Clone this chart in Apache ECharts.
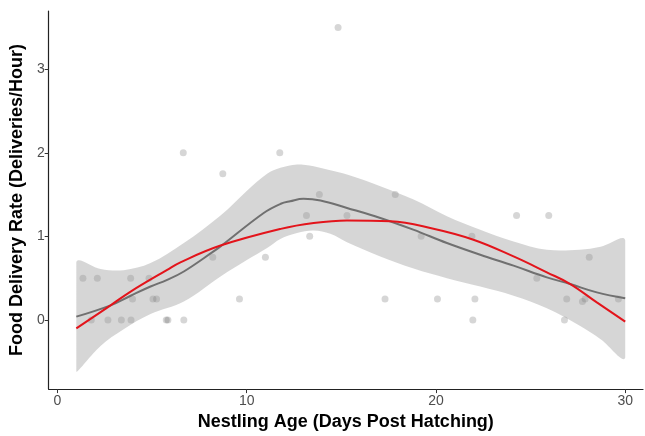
<!DOCTYPE html>
<html>
<head>
<meta charset="utf-8">
<script src="https://cdn.jsdelivr.net/npm/echarts@6/dist/echarts.min.js"></script>
<style>html,body{margin:0;padding:0;background:#fff}#c{width:645px;height:436px}</style>
</head>
<body>
<div id="c"></div>
<script>
// Observed data points [age, rate]
const points = [
  [1.35,0.5],[2.11,0.5],[3.87,0.5],[4.84,0.5],
  [3.97,0.25],[5.05,0.25],[5.24,0.25],
  [1.79,0],[2.67,0],[3.38,0],[3.89,0],[5.75,0],[5.84,0],[6.68,0],
  [6.65,2],[8.74,1.75],[8.21,0.75],[9.62,0.25],[10.99,0.75],[11.75,2],
  [13.16,1.25],[13.33,1],[13.84,1.5],[14.83,3.5],[15.3,1.25],
  [17.31,0.25],[17.85,1.5],[19.22,1],[20.08,0.25],
  [21.9,1],[21.95,0],[22.06,0.25],[24.26,1.25],[25.33,0.5],[25.96,1.25],
  [26.79,0],[26.91,0.25],[27.74,0.22],[27.88,0.25],[28.1,0.75],[29.64,0.25]
];
// Confidence band of the loess smoother
const bandX     = [1, 2.28, 3.5, 4.92, 6.68, 8.62, 10.03, 11.08, 11.78, 12.66, 13.54, 14.42, 15.3, 17.06, 18.82, 20.58, 22.34, 24.1, 25.86, 27.6, 28.7, 30];
const bandUpper = [0.69, 0.61, 0.595, 0.68, 0.92, 1.25, 1.55, 1.75, 1.82, 1.86, 1.84, 1.79, 1.74, 1.60, 1.44, 1.24, 1.08, 0.94, 0.84, 0.84, 0.875, 0.955];
const bandLower = [-0.62, -0.31, -0.11, 0.07, 0.22, 0.52, 0.72, 0.86, 0.97, 1.04, 1.07, 1.03, 0.93, 0.76, 0.615, 0.50, 0.40, 0.29, 0.14, -0.07, -0.23, -0.45];
// Loess curve (grey)
const loessCurve = [[1,0.04],[2.81,0.175],[3.87,0.29],[4.92,0.40],[5.8,0.48],[6.68,0.58],[8.25,0.82],[8.62,0.88],[10.9,1.28],[11.8,1.39],[12.3,1.42],[13.0,1.45],[13.9,1.43],[15.3,1.34],[17.06,1.22],[18.8,1.08],[20.58,0.92],[22.34,0.78],[24.1,0.65],[25.86,0.51],[27.09,0.43],[28.5,0.33],[30,0.26]];
// Polynomial fit curve (red)
const polyCurve = [[1,-0.10],[2.81,0.175],[3.87,0.34],[5.8,0.60],[6.5,0.69],[8.62,0.89],[11.8,1.09],[13.54,1.16],[15.3,1.19],[17.6,1.18],[19.7,1.10],[21.98,0.96],[24.1,0.76],[25.86,0.57],[27.1,0.43],[28.5,0.21],[30,-0.02]];
// Tick labels
const xTicks = [0, 10, 20, 30];
const yTicks = [0, 1, 2, 3];

const font = "'Liberation Sans', Arial, sans-serif";
const chart = echarts.init(document.getElementById('c'));
chart.setOption({
  animation: false,
  backgroundColor: '#ffffff',
  grid: { left: 48, right: 2, top: 11, bottom: 46, containLabel: false },
  xAxis: {
    type: 'value', min: -0.46, max: 30.94,
    name: 'Nestling Age (Days Post Hatching)', nameLocation: 'middle', nameGap: 23,
    nameTextStyle: { fontFamily: font, fontWeight: 'bold', fontSize: 18, color: '#000' },
    axisLine: { show: true, onZero: false, lineStyle: { color: '#222', width: 1.2 } },
    axisTick: { show: true, length: 4, lineStyle: { color: '#333' }, customValues: xTicks },
    axisLabel: { fontFamily: font, fontSize: 14, color: '#4d4d4d', margin: 5, customValues: xTicks },
    splitLine: { show: false }
  },
  yAxis: {
    type: 'value', min: -0.827, max: 3.696,
    name: 'Food Delivery Rate (Deliveries/Hour)', nameLocation: 'middle', nameGap: 19,
    nameTextStyle: { fontFamily: font, fontWeight: 'bold', fontSize: 18, color: '#000' },
    axisLine: { show: true, onZero: false, lineStyle: { color: '#222', width: 1.2 } },
    axisTick: { show: true, length: 4, lineStyle: { color: '#333' }, customValues: yTicks },
    axisLabel: { fontFamily: font, fontSize: 14, color: '#4d4d4d', margin: 4, customValues: yTicks },
    splitLine: { show: false }
  },
  series: [
    {
      type: 'scatter', data: points, symbolSize: 7,
      itemStyle: { color: 'rgba(0,0,0,0.2)' }, z: 1
    },
    {
      type: 'custom', data: [0], z: 2, silent: true,
      renderItem: function (params, api) {
        const up = bandX.map((x, i) => api.coord([x, bandUpper[i]]));
        const lo = bandX.map((x, i) => api.coord([x, bandLower[i]]));
        const pts = up.concat(lo.slice().reverse());
        const ref = [up[0][0], up[0][1]];
        return {
          type: 'polygon',
          shape: { points: pts, smooth: 0.35, smoothConstraint: [ref, ref] },
          style: { fill: 'rgba(153,153,153,0.4)', stroke: null }
        };
      }
    },
    {
      type: 'line', data: loessCurve, symbol: 'none', smooth: 0.4,
      lineStyle: { color: '#707070', width: 2 }, z: 3
    },
    {
      type: 'line', data: polyCurve, symbol: 'none', smooth: 0.4,
      lineStyle: { color: '#e3141b', width: 2 }, z: 4
    }
  ]
});
</script>
</body>
</html>
